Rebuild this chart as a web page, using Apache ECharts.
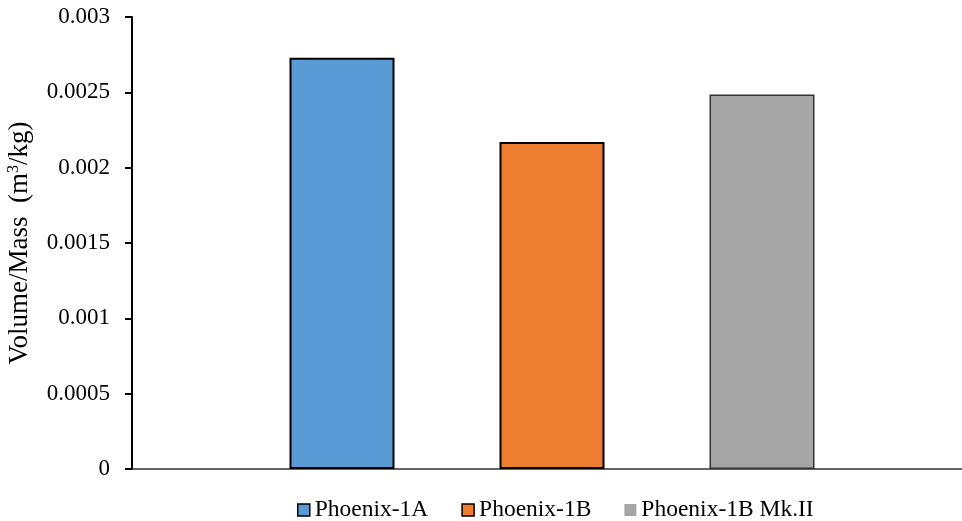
<!DOCTYPE html>
<html>
<head>
<meta charset="utf-8">
<script src="https://cdn.jsdelivr.net/npm/echarts@6/dist/echarts.min.js"></script>
<style>
  html, body { margin: 0; padding: 0; background: #fff; }
  #chart { width: 962px; height: 521px; }
</style>
</head>
<body>
<div id="chart"></div>
<script>
// Specific volume of each vehicle variant (m^3/kg)
const categories = [''];
const seriesNames = ['Phoenix-1A', 'Phoenix-1B', 'Phoenix-1B Mk.II'];
const phoenix1A = [0.00273];
const phoenix1B = [0.00217];
const phoenix1BMk2 = [0.002485];
const yTicks = { min: 0, max: 0.003, interval: 0.0005 };

const colors = ['#5B9BD5', '#ED7D31', '#A5A5A5'];
const borders = [
  { color: '#000', width: 2 },
  { color: '#000', width: 2 },
  { color: '#333', width: 1.5 }
];
const values = [phoenix1A, phoenix1B, phoenix1BMk2];
const font = '"Liberation Serif", "Times New Roman", serif';

const chart = echarts.init(document.getElementById('chart'));
chart.setOption({
  animation: false,
  textStyle: { fontFamily: font },
  // plot area runs past the right edge, so the axis line reaches the border
  grid: { left: 132, width: 840, top: 17, bottom: 52, containLabel: false, outerBoundsMode: 'none' },
  legend: {
    top: 493,
    left: 292,
    itemWidth: 12,
    itemHeight: 12,
    itemGap: 33,
    textStyle: { fontFamily: font, fontSize: 23.5, color: '#000' },
    data: seriesNames.map((n, i) => ({
      name: n,
      icon: 'rect',
      itemStyle: i < 2 ? { borderColor: '#000', borderWidth: 1.5 } : { borderWidth: 0 }
    }))
  },
  xAxis: {
    type: 'category',
    data: categories,
    axisLine: { lineStyle: { color: '#333', width: 1.5 } },
    axisTick: { show: false },
    axisLabel: { show: false }
  },
  yAxis: {
    type: 'value',
    min: yTicks.min,
    max: yTicks.max,
    interval: yTicks.interval,
    name: 'Volume/Mass  (m{sup|3}/kg)',
    nameLocation: 'middle',
    nameGap: 99,
    nameTextStyle: {
      fontFamily: font, fontSize: 27, color: '#000',
      rich: { sup: { fontFamily: font, fontSize: 16, verticalAlign: 'top', padding: [0, 0, 10, 0], color: '#000' } }
    },
    splitLine: { show: false },
    axisLine: { show: true, lineStyle: { color: '#000', width: 2 } },
    axisTick: { show: true, length: 7, lineStyle: { color: '#000', width: 2 } },
    axisLabel: {
      fontFamily: font, fontSize: 23, color: '#000', margin: 22,
      formatter: v => String(+v.toFixed(6))
    }
  },
  series: seriesNames.map((n, i) => ({
    name: n,
    type: 'bar',
    data: values[i],
    barWidth: 105,
    barGap: '100%',
    itemStyle: { color: colors[i], borderColor: borders[i].color, borderWidth: borders[i].width }
  }))
});
</script>
</body>
</html>
